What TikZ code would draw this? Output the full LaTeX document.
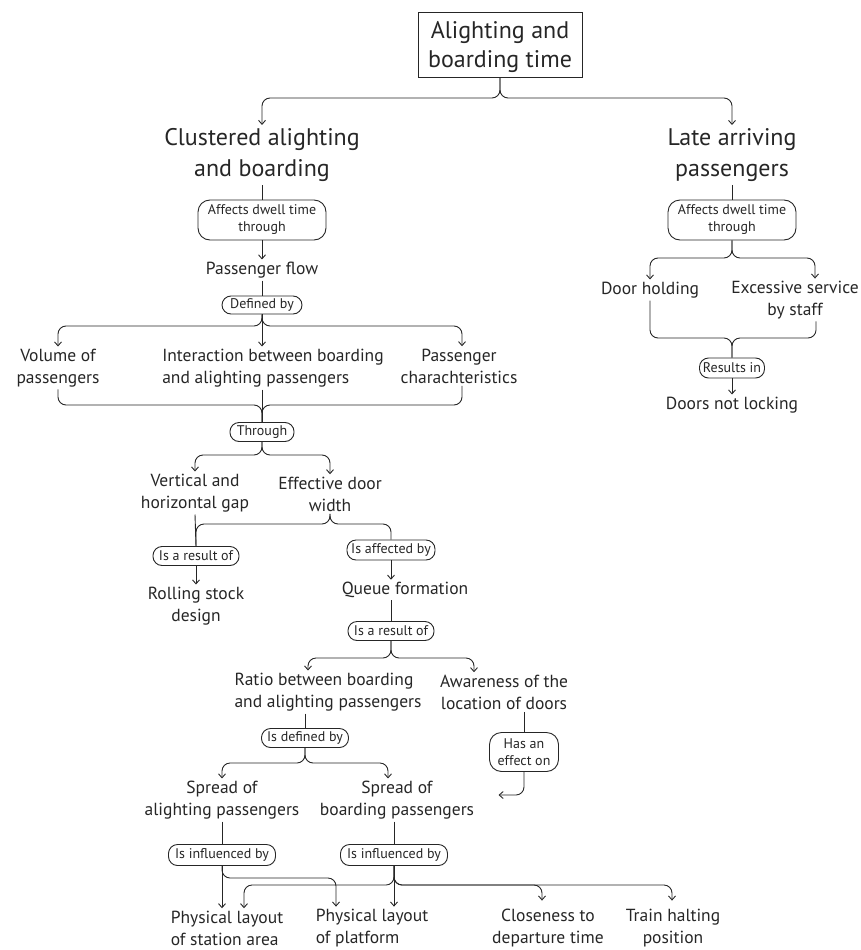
\documentclass[tikz,border=0pt]{standalone}
\usepackage{fontspec}
\setmainfont{PT Sans}
\usetikzlibrary{arrows.meta}
\begin{document}
\begin{tikzpicture}[x=1pt,y=-1pt, color=black!85,
  every path/.style={line width=0.9pt},
  ar/.style={-{Straight Barb[length=4pt,width=7pt]}},
  rc/.style={rounded corners=8pt},
  txt/.style={font=\fontsize{17.5}{22}\selectfont, align=center, inner sep=2pt, yshift=-2pt},
  big/.style={font=\fontsize{24}{31}\selectfont, align=center, inner sep=3pt, yshift=-3pt},
  pill/.style={draw, rounded corners=9pt, font=\fontsize{14}{17}\selectfont, align=center, inner sep=1pt},
  pill2/.style={pill, rounded corners=12pt}]
\useasboundingbox (0,0) rectangle (861,950);

% title
\node[draw, line width=0.9pt, minimum width=164pt, minimum height=65pt, inner sep=0pt] (T) at (500,44.5) {};
\node[font=\fontsize{24}{29}\selectfont, align=center, inner sep=0pt, yshift=-3pt] (Tt) at (T.center) {Alighting and\\boarding time};
\node[big] (C) at (262,152) {Clustered alighting\\and boarding};
\node[big] (L) at (732,152) {Late arriving\\passengers};
\draw[ar,rc] (T.south) -- (500,98) -| (C.north);
\draw[ar,rc] (T.south) -- (500,98) -| (L.north);

% right branch
\node[pill2, minimum width=128pt, minimum height=40pt] (LA) at (732,220) {Affects dwell time\\through};
\draw (L.south) -- (LA.north);
\node[txt] (DH) at (650,288) {Door holding};
\node[txt] (ES) at (795,298) {Excessive service\\by staff};
\draw[ar,rc] (LA.south) -- (732,258) -| (DH.north);
\draw[ar,rc] (LA.south) -- (732,258) -| ([xshift=20]ES.north);
\node[pill, minimum width=65pt, minimum height=20pt] (RI) at (732,368) {Results in};
\draw[rc] (DH.south) -- (650,338) -- (732,338) -- (RI.north);
\draw[rc] ([xshift=21]ES.south) -- (816,338) -- (732,338) -- (RI.north);
\node[txt] (DN) at (732,403) {Doors not locking};
\draw[ar] (RI.south) -- (DN.north);

% left branch
\node[pill2, minimum width=128pt, minimum height=40pt] (CA) at (262,220) {Affects dwell time\\through};
\draw (C.south) -- (CA.north);
\node[txt] (PF) at (262,268) {Passenger flow};
\draw[ar] (CA.south) -- (PF.north);
\node[pill, minimum width=80pt, minimum height=18pt] (DB) at (262,305) {Defined by};
\draw (PF.south) -- (DB.north);
\node[txt] (VP) at (58,366) {Volume of\\passengers};
\node[txt, align=left] (IB) at (273,366) {Interaction between boarding\\and alighting passengers};
\node[txt] (PC) at (459,364) {Passenger\\charachteristics};
\draw[ar,rc] (DB.south) -- (262,326) -| (VP.north);
\draw[ar,rc] (DB.south) -- (262,326) -| ([xshift=3]PC.north);
\draw[ar] (DB.south) -- (DB.south |- IB.north);
\node[pill, minimum width=64pt, minimum height=19pt] (TH) at (262,432) {Through};
\draw[rc] (VP.south) -- (58,405) -- (262,405) -- (TH.north);
\draw[rc] ([xshift=3]PC.south) -- (462,405) -- (262,405) -- (TH.north);
\draw (DB.south |- IB.south) -- (TH.north);

\node[txt] (VH) at (195,491) {Vertical and\\horizontal gap};
\node[txt] (ED) at (330,492) {Effective door\\width};
\draw[ar,rc] (TH.south) -- (262,455) -| (VH.north);
\draw[ar,rc] (TH.south) -- (262,455) -| (ED.north);

\node[pill, minimum width=86pt, minimum height=19pt] (IR1) at (196,556) {Is a result of};
\node[pill, minimum width=88pt, minimum height=20pt] (IAF) at (391,550) {Is affected by};
\draw (VH.south) -- (IR1.north);
\draw[rc] (ED.south) -- (330,524) -- (196,524) -- (IR1.north);
\draw[rc] (ED.south) -- (330,524) -- (391,524) -- (IAF.north);
\node[txt] (RS) at (196,604) {Rolling stock\\design};
\draw[ar] (IR1.south) -- (RS.north);
\node[txt] (QF) at (405,588) {Queue formation};
\draw[ar] (IAF.south) -- (IAF.south |- QF.north);
\node[pill, minimum width=86pt, minimum height=19pt] (IR2) at (391,631) {Is a result of};
\draw (IR2.north |- QF.south) -- (IR2.north);

\node[txt, align=left] (RB) at (328,690) {Ratio between boarding\\and alighting passengers};
\node[txt] (AW) at (504,690) {Awareness of the\\location of doors};
\draw[ar,rc] (IR2.south) -- (391,658) -| ([xshift=-20]RB.north);
\draw[ar,rc] (IR2.south) -- (391,658) -| ([xshift=-30]AW.north);

\node[pill, minimum width=87pt, minimum height=19pt] (IDB) at (305,738) {Is defined by};
\draw ([xshift=-23]RB.south) -- (IDB.north);
\node[txt] (SA) at (222,798) {Spread of\\alighting passengers};
\node[txt] (SB) at (397,798) {Spread of\\boarding passengers};
\draw[ar,rc] (IDB.south) -- (305,763) -| (SA.north);
\draw[ar,rc] (IDB.south) -- (305,763) -| ([xshift=-9]SB.north);

\node[pill2, minimum width=69pt, minimum height=39pt] (HE) at (524,752) {Has an\\effect on};
\draw ([xshift=20]AW.south) -- (HE.north);
\draw[ar,rc] (HE.south) |- ([xshift=22,yshift=5]SB.east);

\node[pill, minimum width=107pt, minimum height=21pt] (II1) at (222,855) {Is influenced by};
\node[pill, minimum width=107pt, minimum height=21pt] (II2) at (394,855) {Is influenced by};
\draw (SA.south) -- (II1.north);
\draw ([xshift=-3]SB.south) -- (II2.north);

\node[txt, align=left] (PS) at (227,926) {Physical layout\\of station area};
\node[txt, align=left] (PP) at (372,926) {Physical layout\\of platform};
\node[txt] (CD) at (548,926) {Closeness to\\departure time};
\node[txt] (TP) at (673,926) {Train halting\\position};
\draw[ar] (II1.south) -- ([xshift=-5]PS.north);
\draw[ar,rc] (II1.south) -- (222,878) -- (336,878) -- ([xshift=-36]PP.north);
\draw[ar] (II2.south) -- ([xshift=22]PP.north);
\draw[ar,rc] (II2.south) -- (394,885) -- (244,885) -- ([xshift=17]PS.north);
\draw[ar,rc,shorten >=6pt] (II2.south) -- (394,885) -- (542,885) -- ([xshift=-6]CD.north);
\draw[ar,rc,shorten >=6pt] (II2.south) -- (394,885) -- (672,885) -- ([xshift=-1]TP.north);
\end{tikzpicture}
\end{document}
